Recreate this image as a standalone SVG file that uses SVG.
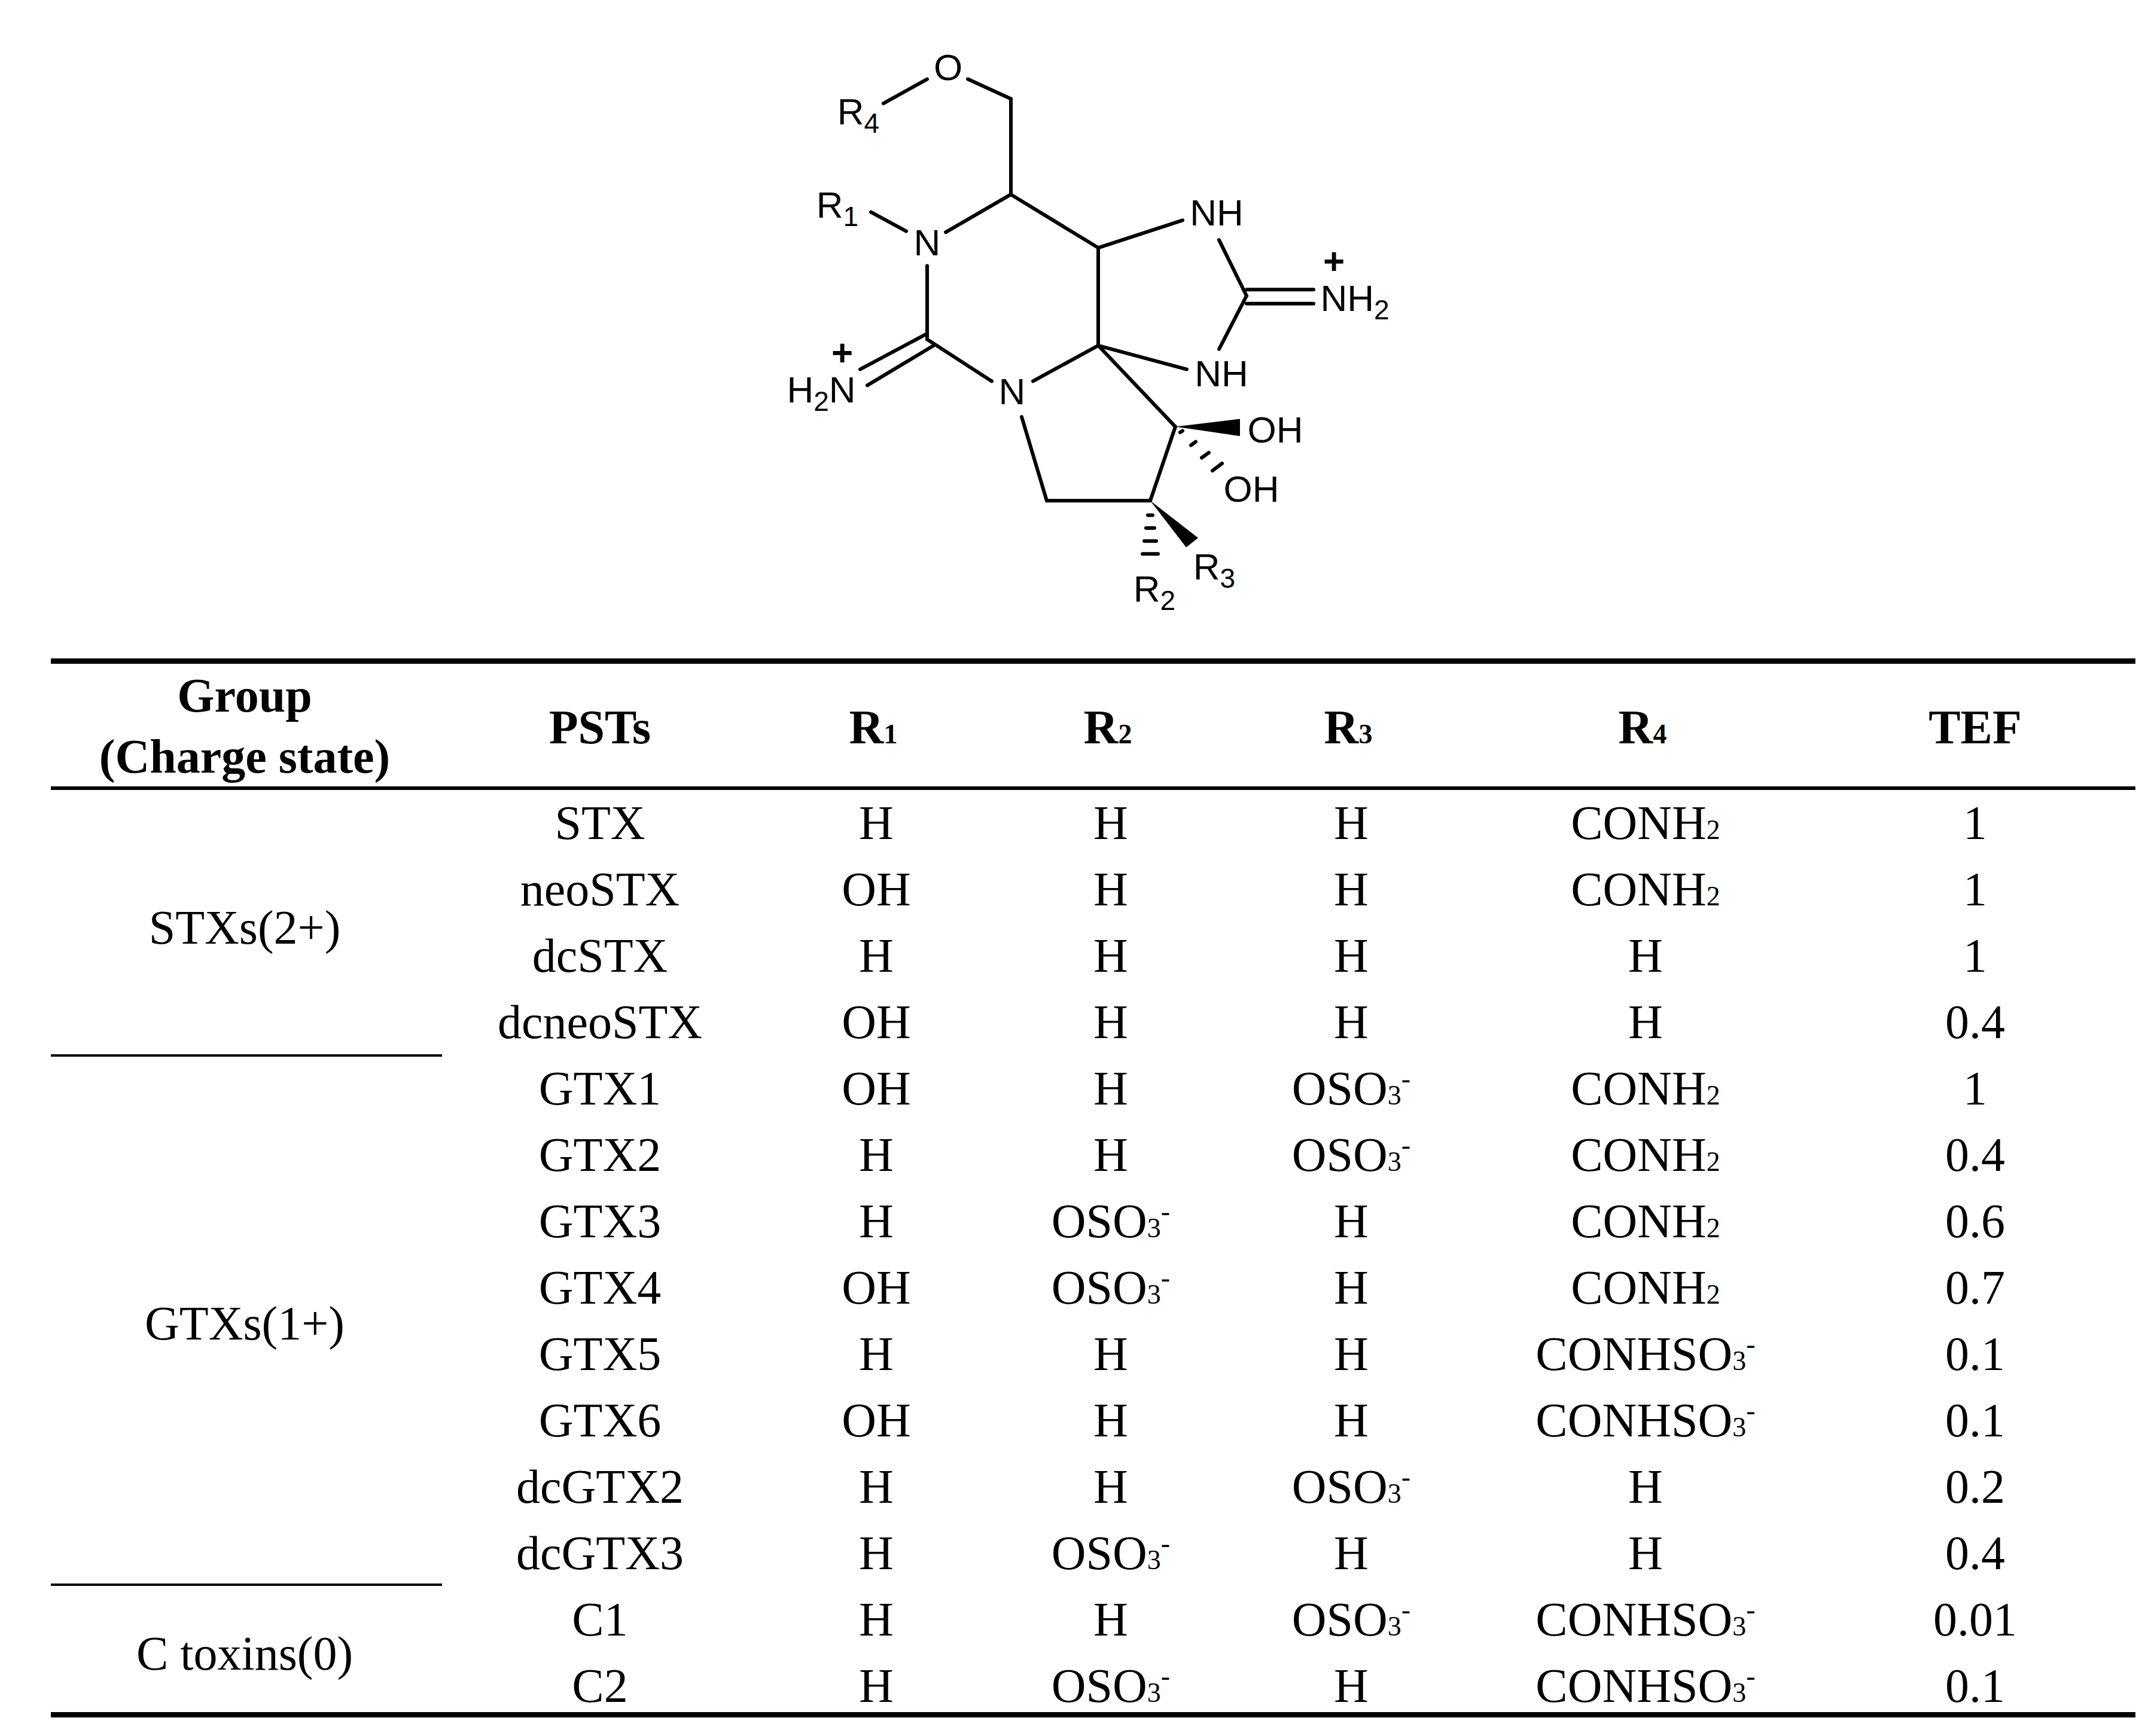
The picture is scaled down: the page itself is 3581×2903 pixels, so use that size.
<svg xmlns="http://www.w3.org/2000/svg" width="3581" height="2903" viewBox="0 0 3581 2903">
<style>
.b{stroke:#000;stroke-width:6;fill:none;stroke-linecap:round}
.b line{vector-effect:non-scaling-stroke}
.a{font-family:"Liberation Sans",Arial,sans-serif;font-size:62px;fill:#000;text-anchor:middle}
.t{font-family:"Liberation Serif","Times New Roman",serif;font-size:80px;fill:#000;text-anchor:middle}
.h{font-weight:bold}
.s{font-size:46px}
</style>
<rect width="3581" height="2903" fill="#fff"/>
<g id="structure">
<g id="bonds" transform="translate(0,115) scale(1,0.865) translate(0,-115)">
<g class="b">
<line x1="1477" y1="182" x2="1550" y2="135"/>
<line x1="1618" y1="135" x2="1690" y2="173"/>
<line x1="1690" y1="173" x2="1690" y2="358"/>
<line x1="1690" y1="358" x2="1581" y2="431"/>
<line x1="1456" y1="392" x2="1515" y2="429"/>
<line x1="1690" y1="358" x2="1836" y2="461"/>
<line x1="1836" y1="461" x2="1977" y2="408"/>
<line x1="2038" y1="446" x2="2084" y2="554"/>
<line x1="2084" y1="542" x2="2196" y2="542"/>
<line x1="2084" y1="569" x2="2196" y2="569"/>
<line x1="2084" y1="554" x2="2038" y2="657"/>
<line x1="1836" y1="650" x2="1984" y2="696"/>
<line x1="1836" y1="461" x2="1836" y2="650"/>
<line x1="1550" y1="496" x2="1550" y2="638"/>
<line x1="1550" y1="638" x2="1658" y2="719"/>
<line x1="1727" y1="719" x2="1836" y2="650"/>
<line x1="1550" y1="627" x2="1438" y2="696"/>
<line x1="1561" y1="650" x2="1450" y2="727"/>
<line x1="1708" y1="788" x2="1750" y2="950"/>
<line x1="1750" y1="950" x2="1923" y2="950"/>
<line x1="1836" y1="650" x2="1965" y2="807"/>
<line x1="1965" y1="807" x2="1923" y2="950"/>
</g>
<polygon points="1965,807 2073,792 2073,825" fill="#000"/>
<g class="b" stroke-width="7">
<line x1="1973" y1="818" x2="1977" y2="815"/>
<line x1="1991" y1="843" x2="1999" y2="836"/>
<line x1="2009" y1="867" x2="2021" y2="857"/>
<line x1="2027" y1="892" x2="2043" y2="878"/>
</g>
<polygon points="1923,950 2003,1022 1983,1040" fill="#000"/>
<g class="b" stroke-width="7">
<line x1="1919" y1="978" x2="1927" y2="978"/>
<line x1="1916" y1="1003" x2="1930" y2="1003"/>
<line x1="1913" y1="1028" x2="1933" y2="1028"/>
<line x1="1910" y1="1053" x2="1936" y2="1053"/>
</g>
</g>
<g id="labels">
<text class="a" x="1585" y="134">O</text>
<text class="a" x="1435" y="208">R<tspan class="s" dy="14">4</tspan></text>
<text class="a" x="1400" y="364">R<tspan class="s" dy="14">1</tspan></text>
<text class="a" x="1550" y="427">N</text>
<text class="a" x="2034" y="377">NH</text>
<text class="a" x="2265" y="520">NH<tspan class="s" dy="14">2</tspan></text>
<text class="a" x="2230" y="458" font-size="50" font-weight="bold">+</text>
<text class="a" x="2042" y="646">NH</text>
<text class="a" x="1373" y="673">H<tspan class="s" dy="14">2</tspan><tspan dy="-14">N</tspan></text>
<text class="a" x="1408" y="611" font-size="50" font-weight="bold">+</text>
<text class="a" x="1692" y="676">N</text>
<text class="a" x="2132" y="740">OH</text>
<text class="a" x="2092" y="839">OH</text>
<text class="a" x="2030" y="969">R<tspan class="s" dy="14">3</tspan></text>
<text class="a" x="1930" y="1006">R<tspan class="s" dy="14">2</tspan></text>
</g>
</g>
<g id="table">
<g id="rules" fill="#000">
<rect x="85" y="1101" width="3485" height="9"/>
<rect x="85" y="1315" width="3485" height="6"/>
<rect x="85" y="2863" width="3485" height="9"/>
<rect x="85" y="1763" width="654" height="4"/>
<rect x="85" y="2648" width="654" height="4"/>
</g>
<g id="header" class="t h">
<text x="409" y="1190">Group</text>
<text x="409" y="1292">(Charge state)</text>
<text x="1003" y="1243">PSTs</text>
<text x="1460" y="1243">R<tspan class="s">1</tspan></text>
<text x="1852" y="1243">R<tspan class="s">2</tspan></text>
<text x="2254" y="1243">R<tspan class="s">3</tspan></text>
<text x="2746" y="1243">R<tspan class="s">4</tspan></text>
<text x="3302" y="1243">TEF</text>
</g>
<g id="groups" class="t">
<text x="409" y="1578">STXs(2+)</text>
<text x="409" y="2240">GTXs(1+)</text>
<text x="409" y="2792">C toxins(0)</text>
</g>
<g id="rows" class="t">
<g transform="translate(0,1403)"><text x="1003">STX</text><text x="1465">H</text><text x="1857">H</text><text x="2259">H</text><text x="2751">CONH<tspan class="s">2</tspan></text><text x="3302">1</text></g>
<g transform="translate(0,1514)"><text x="1003">neoSTX</text><text x="1465">OH</text><text x="1857">H</text><text x="2259">H</text><text x="2751">CONH<tspan class="s">2</tspan></text><text x="3302">1</text></g>
<g transform="translate(0,1625)"><text x="1003">dcSTX</text><text x="1465">H</text><text x="1857">H</text><text x="2259">H</text><text x="2751">H</text><text x="3302">1</text></g>
<g transform="translate(0,1736)"><text x="1003">dcneoSTX</text><text x="1465">OH</text><text x="1857">H</text><text x="2259">H</text><text x="2751">H</text><text x="3302">0.4</text></g>
<g transform="translate(0,1847)"><text x="1003">GTX1</text><text x="1465">OH</text><text x="1857">H</text><text x="2259">OSO<tspan class="s">3</tspan><tspan class="s" dy="-28">-</tspan></text><text x="2751">CONH<tspan class="s">2</tspan></text><text x="3302">1</text></g>
<g transform="translate(0,1958)"><text x="1003">GTX2</text><text x="1465">H</text><text x="1857">H</text><text x="2259">OSO<tspan class="s">3</tspan><tspan class="s" dy="-28">-</tspan></text><text x="2751">CONH<tspan class="s">2</tspan></text><text x="3302">0.4</text></g>
<g transform="translate(0,2069)"><text x="1003">GTX3</text><text x="1465">H</text><text x="1857">OSO<tspan class="s">3</tspan><tspan class="s" dy="-28">-</tspan></text><text x="2259">H</text><text x="2751">CONH<tspan class="s">2</tspan></text><text x="3302">0.6</text></g>
<g transform="translate(0,2180)"><text x="1003">GTX4</text><text x="1465">OH</text><text x="1857">OSO<tspan class="s">3</tspan><tspan class="s" dy="-28">-</tspan></text><text x="2259">H</text><text x="2751">CONH<tspan class="s">2</tspan></text><text x="3302">0.7</text></g>
<g transform="translate(0,2291)"><text x="1003">GTX5</text><text x="1465">H</text><text x="1857">H</text><text x="2259">H</text><text x="2751">CONHSO<tspan class="s">3</tspan><tspan class="s" dy="-28">-</tspan></text><text x="3302">0.1</text></g>
<g transform="translate(0,2402)"><text x="1003">GTX6</text><text x="1465">OH</text><text x="1857">H</text><text x="2259">H</text><text x="2751">CONHSO<tspan class="s">3</tspan><tspan class="s" dy="-28">-</tspan></text><text x="3302">0.1</text></g>
<g transform="translate(0,2513)"><text x="1003">dcGTX2</text><text x="1465">H</text><text x="1857">H</text><text x="2259">OSO<tspan class="s">3</tspan><tspan class="s" dy="-28">-</tspan></text><text x="2751">H</text><text x="3302">0.2</text></g>
<g transform="translate(0,2624)"><text x="1003">dcGTX3</text><text x="1465">H</text><text x="1857">OSO<tspan class="s">3</tspan><tspan class="s" dy="-28">-</tspan></text><text x="2259">H</text><text x="2751">H</text><text x="3302">0.4</text></g>
<g transform="translate(0,2735)"><text x="1003">C1</text><text x="1465">H</text><text x="1857">H</text><text x="2259">OSO<tspan class="s">3</tspan><tspan class="s" dy="-28">-</tspan></text><text x="2751">CONHSO<tspan class="s">3</tspan><tspan class="s" dy="-28">-</tspan></text><text x="3302">0.01</text></g>
<g transform="translate(0,2846)"><text x="1003">C2</text><text x="1465">H</text><text x="1857">OSO<tspan class="s">3</tspan><tspan class="s" dy="-28">-</tspan></text><text x="2259">H</text><text x="2751">CONHSO<tspan class="s">3</tspan><tspan class="s" dy="-28">-</tspan></text><text x="3302">0.1</text></g>
</g>
</g>
</svg>
